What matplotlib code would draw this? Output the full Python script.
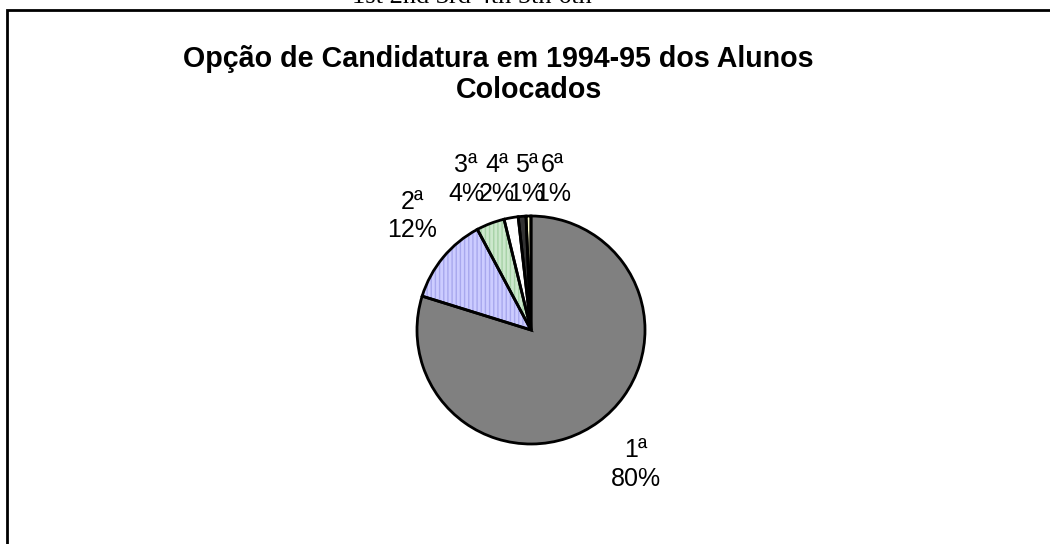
import matplotlib
matplotlib.use("Agg")
import matplotlib.pyplot as plt
from matplotlib.patches import Rectangle

# ---- data ----
categories = ["1ª", "2ª", "3ª", "4ª", "5ª", "6ª"]
values = [79.8, 12.4, 4.0, 2.0, 1.1, 0.7]
pct_labels = ["80%", "12%", "4%", "2%", "1%", "1%"]
title_line1 = "Opção de Candidatura em 1994-95 dos Alunos"
title_line2 = "Colocados"
top_text = "1st 2nd 3rd 4th 5th 6th"

# ---- style ----
face_colors = ["#808080", "#ccccff", "#cce8cc", "#ffffff", "#333333", "#ffffcc"]
hatch_colors = ["#808080", "#a8a8ee", "#a6d2a6", "#ffffff", "#333333", "#ffffcc"]
hatches = [None, "||||", "||||", None, None, None]
label_pos = [(0.92, -1.18), (-1.04, 1.0), (-0.57, 1.32), (-0.30, 1.32), (-0.04, 1.32), (0.19, 1.32)]

W, H = 1050, 544
fig = plt.figure(figsize=(W / 100, H / 100), dpi=100)
fig.patch.set_facecolor("white")

# outer border (right/bottom run off the image)
fig.patches.append(Rectangle((7 / W, -0.2), 1.2, (H - 10) / H + 0.2,
                             transform=fig.transFigure, fill=False,
                             edgecolor="black", linewidth=2.0))

# clipped text at the very top
fig.text(472 / W, 1 - 3 / H, top_text, ha="center", va="baseline",
         fontsize=19, family="Liberation Serif", color="black")

# title
fig.text(498 / W, 1 - 67 / H, title_line1, ha="center", va="baseline",
         fontsize=20.6, fontweight="bold", family="Liberation Sans")
fig.text(529 / W, 1 - 98 / H, title_line2, ha="center", va="baseline",
         fontsize=20.6, fontweight="bold", family="Liberation Sans")

# pie axes: centre at (531, 330) px from top, radius 114 px
R = 114
S = 2.0
side = 2 * R * S
cx, cy = 531, H - 330
ax = fig.add_axes([(cx - side / 2) / W, (cy - side / 2) / H, side / W, side / H])

plt.rcParams["hatch.linewidth"] = 1.0
# fill layer with hatching
wedges, _ = ax.pie(values, startangle=90, counterclock=False, radius=1,
                   colors=face_colors,
                   wedgeprops=dict(linewidth=0))
for w, hc, h in zip(wedges, hatch_colors, hatches):
    if h:
        w.set_hatch(h)
        w.set_edgecolor(hc)
        w.set_linewidth(0)
# outline layer
ax.pie(values, startangle=90, counterclock=False, radius=1,
       colors=["none"] * len(values),
       wedgeprops=dict(edgecolor="black", linewidth=2.0, fill=False))

ax.set_xlim(-S, S)
ax.set_ylim(-S, S)
ax.set_aspect("equal")
ax.axis("off")

for cat, pct, (x, y) in zip(categories, pct_labels, label_pos):
    ax.text(x, y, f"{cat}\n{pct}", ha="center", va="center",
            multialignment="center", fontsize=18, family="Liberation Sans",
            linespacing=1.25, clip_on=False)

fig.savefig("out.png", dpi=100, facecolor="white")
